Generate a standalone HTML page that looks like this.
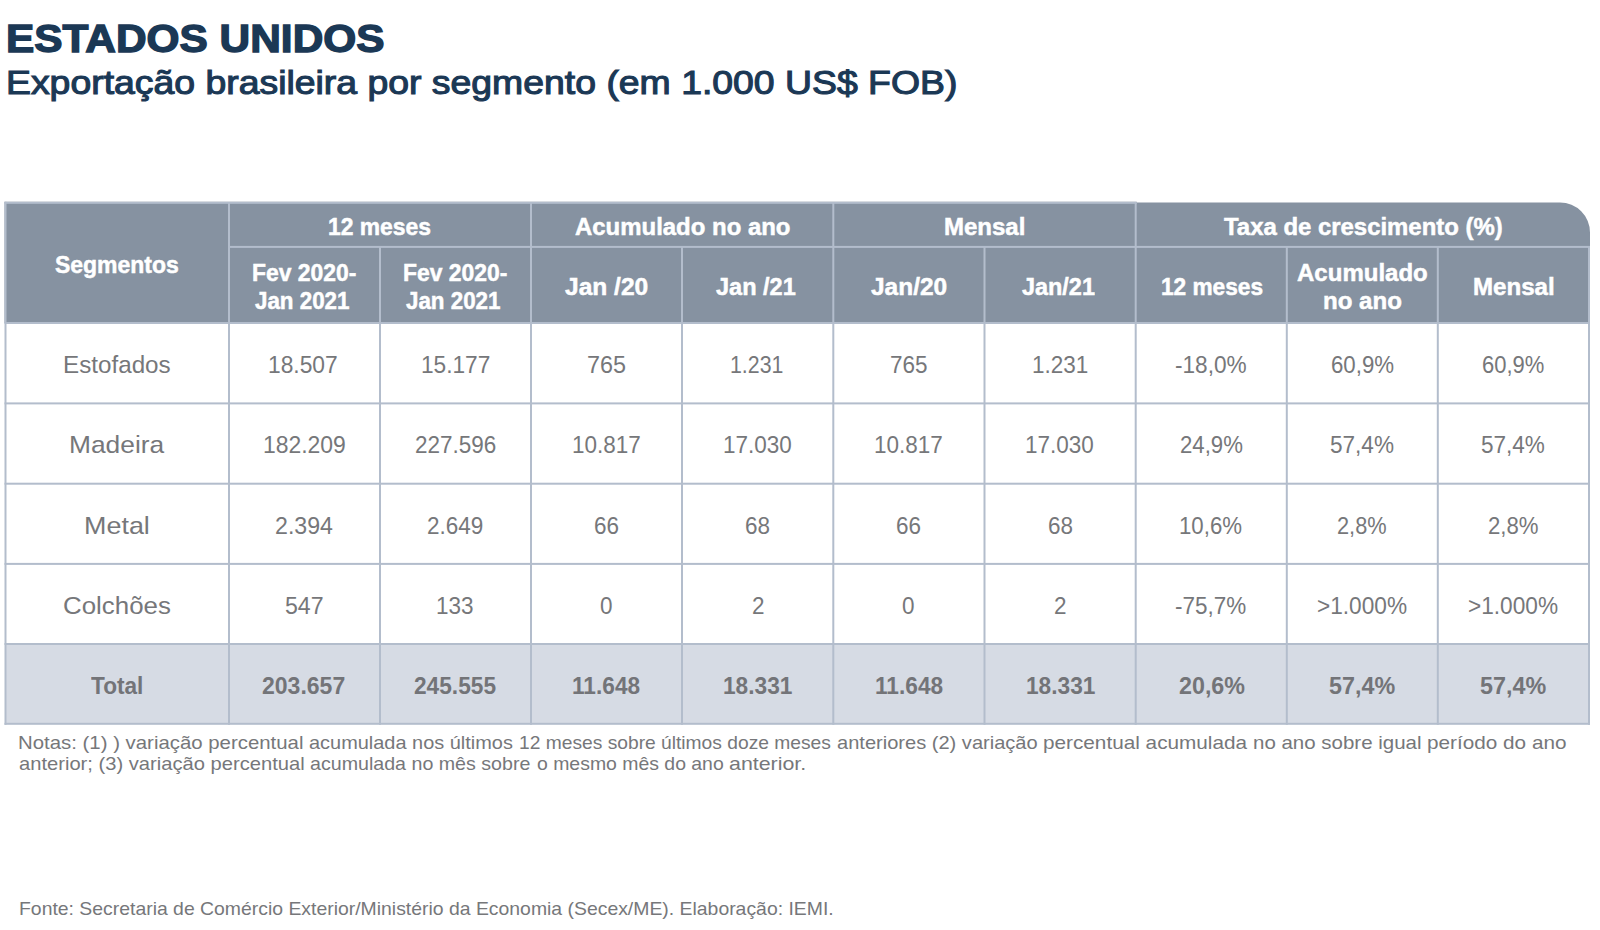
<!DOCTYPE html>
<html lang="pt-BR"><head><meta charset="utf-8"><title>Estados Unidos - Exportação brasileira por segmento</title>
<style>
html,body{margin:0;padding:0;background:#fff;}
body{width:1600px;height:930px;position:relative;overflow:hidden;font-family:"Liberation Sans",sans-serif;}
.abs{position:absolute;}
.t{position:absolute;display:block;white-space:nowrap;line-height:1;transform-origin:0 0;}
.ln{position:absolute;}
</style></head><body>
<svg class="abs" style="left:0;top:0" width="1600" height="930" viewBox="0 0 1600 930">
<path d="M4.5 201.8 H1136.7 V202.5 H1560 A30 30 0 0 1 1590 232.5 V323 H4.5 Z" fill="#8692a1"/>
<rect x="5.5" y="644" width="1583.5" height="79.8" fill="#d6dbe4"/>
<rect x="4.5" y="201.8" width="1132.2" height="2" fill="#b3bdcc"/>
<rect x="229" y="245.9" width="1361" height="2" fill="#b3bdcc"/>
<rect x="4.5" y="201.8" width="2" height="121.2" fill="#b3bdcc"/>
<rect x="228" y="202.8" width="2" height="120.2" fill="#b3bdcc"/>
<rect x="530" y="202.8" width="2" height="120.2" fill="#b3bdcc"/>
<rect x="832.3" y="202.8" width="2" height="120.2" fill="#b3bdcc"/>
<rect x="1134.7" y="202.8" width="2" height="120.2" fill="#b3bdcc"/>
<rect x="379" y="246.9" width="2" height="76.1" fill="#b3bdcc"/>
<rect x="681" y="246.9" width="2" height="76.1" fill="#b3bdcc"/>
<rect x="983.5" y="246.9" width="2" height="76.1" fill="#b3bdcc"/>
<rect x="1285.8" y="246.9" width="2" height="76.1" fill="#b3bdcc"/>
<rect x="1436.8" y="246.9" width="2" height="76.1" fill="#b3bdcc"/>
<rect x="1588" y="246.9" width="2" height="76.1" fill="#b3bdcc"/>
<rect x="4.5" y="322" width="1585.5" height="2" fill="#b3bdcc"/>
<rect x="4.5" y="402.4" width="1585.5" height="2" fill="#b3bdcc"/>
<rect x="4.5" y="482.7" width="1585.5" height="2" fill="#b3bdcc"/>
<rect x="4.5" y="562.9" width="1585.5" height="2" fill="#b3bdcc"/>
<rect x="4.5" y="643" width="1585.5" height="2" fill="#b3bdcc"/>
<rect x="4.5" y="722.8" width="1585.5" height="2" fill="#b3bdcc"/>
<rect x="4.5" y="323" width="2" height="401.8" fill="#b3bdcc"/>
<rect x="228" y="323" width="2" height="401.8" fill="#b3bdcc"/>
<rect x="379" y="323" width="2" height="401.8" fill="#b3bdcc"/>
<rect x="530" y="323" width="2" height="401.8" fill="#b3bdcc"/>
<rect x="681" y="323" width="2" height="401.8" fill="#b3bdcc"/>
<rect x="832.3" y="323" width="2" height="401.8" fill="#b3bdcc"/>
<rect x="983.5" y="323" width="2" height="401.8" fill="#b3bdcc"/>
<rect x="1134.7" y="323" width="2" height="401.8" fill="#b3bdcc"/>
<rect x="1285.8" y="323" width="2" height="401.8" fill="#b3bdcc"/>
<rect x="1436.8" y="323" width="2" height="401.8" fill="#b3bdcc"/>
<rect x="1588" y="323" width="2" height="401.8" fill="#b3bdcc"/>
</svg>
<div class="grp head">
<span class="t" id="title" style="left:5.85px;top:19px;font-size:39.4px;color:#1b3855;transform:scaleX(1.0765);font-weight:bold;-webkit-text-stroke:1.4px #1b3855;">ESTADOS UNIDOS</span>
<span class="t" id="sub" style="left:5.59px;top:66px;font-size:33.4px;color:#1b3855;transform:scaleX(1.1193);-webkit-text-stroke:1.1px #1b3855;">Exportação brasileira por segmento (em 1.000 US$ FOB)</span>
</div>
<div class="grp thead">
<span class="t" id="h_seg" style="left:54.61px;top:253px;font-size:24.4px;color:#ffffff;transform:scaleX(0.9413);font-weight:bold;-webkit-text-stroke:0.5px #ffffff;">Segmentos</span>
<span class="t" id="h_12" style="left:328.09px;top:215px;font-size:24.4px;color:#ffffff;transform:scaleX(0.9375);font-weight:bold;-webkit-text-stroke:0.5px #ffffff;">12 meses</span>
<span class="t" id="h_ac" style="left:575.00px;top:215px;font-size:24.4px;color:#ffffff;transform:scaleX(0.9817);font-weight:bold;-webkit-text-stroke:0.5px #ffffff;">Acumulado no ano</span>
<span class="t" id="h_me" style="left:944.02px;top:215px;font-size:24.4px;color:#ffffff;transform:scaleX(0.9844);font-weight:bold;-webkit-text-stroke:0.5px #ffffff;">Mensal</span>
<span class="t" id="h_tx" style="left:1224.00px;top:215px;font-size:24.4px;color:#ffffff;transform:scaleX(0.9806);font-weight:bold;-webkit-text-stroke:0.5px #ffffff;">Taxa de crescimento (%)</span>
<span class="t" id="h_f1a" style="left:251.70px;top:261px;font-size:24.4px;color:#ffffff;transform:scaleX(0.9386);font-weight:bold;-webkit-text-stroke:0.5px #ffffff;">Fev 2020-</span>
<span class="t" id="h_f1b" style="left:255.04px;top:289px;font-size:24.4px;color:#ffffff;transform:scaleX(0.9167);font-weight:bold;-webkit-text-stroke:0.5px #ffffff;">Jan 2021</span>
<span class="t" id="h_f2a" style="left:402.70px;top:261px;font-size:24.4px;color:#ffffff;transform:scaleX(0.9386);font-weight:bold;-webkit-text-stroke:0.5px #ffffff;">Fev 2020-</span>
<span class="t" id="h_f2b" style="left:406.04px;top:289px;font-size:24.4px;color:#ffffff;transform:scaleX(0.9167);font-weight:bold;-webkit-text-stroke:0.5px #ffffff;">Jan 2021</span>
<span class="t" id="h_j1" style="left:565.00px;top:275px;font-size:24.4px;color:#ffffff;transform:scaleX(1.0061);font-weight:bold;-webkit-text-stroke:0.5px #ffffff;">Jan /20</span>
<span class="t" id="h_j2" style="left:715.99px;top:275px;font-size:24.4px;color:#ffffff;transform:scaleX(0.9639);font-weight:bold;-webkit-text-stroke:0.5px #ffffff;">Jan /21</span>
<span class="t" id="h_j3" style="left:871.00px;top:275px;font-size:24.4px;color:#ffffff;transform:scaleX(1.0034);font-weight:bold;-webkit-text-stroke:0.5px #ffffff;">Jan/20</span>
<span class="t" id="h_j4" style="left:1022.01px;top:275px;font-size:24.4px;color:#ffffff;transform:scaleX(0.9601);font-weight:bold;-webkit-text-stroke:0.5px #ffffff;">Jan/21</span>
<span class="t" id="h_12b" style="left:1161.08px;top:275px;font-size:24.4px;color:#ffffff;transform:scaleX(0.9283);font-weight:bold;-webkit-text-stroke:0.5px #ffffff;">12 meses</span>
<span class="t" id="h_acb1" style="left:1297.01px;top:261px;font-size:24.4px;color:#ffffff;transform:scaleX(0.9848);font-weight:bold;-webkit-text-stroke:0.5px #ffffff;">Acumulado</span>
<span class="t" id="h_acb2" style="left:1323.00px;top:289px;font-size:24.4px;color:#ffffff;transform:scaleX(0.9875);font-weight:bold;-webkit-text-stroke:0.5px #ffffff;">no ano</span>
<span class="t" id="h_meb" style="left:1473.00px;top:275px;font-size:24.4px;color:#ffffff;transform:scaleX(0.9878);font-weight:bold;-webkit-text-stroke:0.5px #ffffff;">Mensal</span>
</div>
<div class="grp tbody">
<span class="t" id="b0_0" style="left:63.41px;top:353px;font-size:24.4px;color:#76777a;transform:scaleX(0.9925);">Estofados</span>
<span class="t" id="b0_1" style="left:268.45px;top:353px;font-size:24.4px;color:#76777a;transform:scaleX(0.9347);">18.507</span>
<span class="t" id="b0_2" style="left:420.65px;top:353px;font-size:24.4px;color:#76777a;transform:scaleX(0.9292);">15.177</span>
<span class="t" id="b0_3" style="left:586.87px;top:353px;font-size:24.4px;color:#76777a;transform:scaleX(0.9580);">765</span>
<span class="t" id="b0_4" style="left:729.99px;top:353px;font-size:24.4px;color:#76777a;transform:scaleX(0.8738);">1.231</span>
<span class="t" id="b0_5" style="left:889.71px;top:353px;font-size:24.4px;color:#76777a;transform:scaleX(0.9220);">765</span>
<span class="t" id="b0_6" style="left:1031.81px;top:353px;font-size:24.4px;color:#76777a;transform:scaleX(0.9220);">1.231</span>
<span class="t" id="b0_7" style="left:1175.30px;top:353px;font-size:24.4px;color:#76777a;transform:scaleX(0.9276);">-18,0%</span>
<span class="t" id="b0_8" style="left:1330.76px;top:353px;font-size:24.4px;color:#76777a;transform:scaleX(0.9121);">60,9%</span>
<span class="t" id="b0_9" style="left:1481.55px;top:353px;font-size:24.4px;color:#76777a;transform:scaleX(0.9015);">60,9%</span>
<span class="t" id="b1_0" style="left:68.91px;top:433px;font-size:24.4px;color:#76777a;transform:scaleX(1.0803);">Madeira</span>
<span class="t" id="b1_1" style="left:263.13px;top:433px;font-size:24.4px;color:#76777a;transform:scaleX(0.9400);">182.209</span>
<span class="t" id="b1_2" style="left:415.47px;top:433px;font-size:24.4px;color:#76777a;transform:scaleX(0.9220);">227.596</span>
<span class="t" id="b1_3" style="left:571.92px;top:433px;font-size:24.4px;color:#76777a;transform:scaleX(0.9220);">10.817</span>
<span class="t" id="b1_4" style="left:723.05px;top:433px;font-size:24.4px;color:#76777a;transform:scaleX(0.9220);">17.030</span>
<span class="t" id="b1_5" style="left:874.03px;top:433px;font-size:24.4px;color:#76777a;transform:scaleX(0.9220);">10.817</span>
<span class="t" id="b1_6" style="left:1025.36px;top:433px;font-size:24.4px;color:#76777a;transform:scaleX(0.9220);">17.030</span>
<span class="t" id="b1_7" style="left:1179.67px;top:433px;font-size:24.4px;color:#76777a;transform:scaleX(0.9089);">24,9%</span>
<span class="t" id="b1_8" style="left:1329.79px;top:433px;font-size:24.4px;color:#76777a;transform:scaleX(0.9251);">57,4%</span>
<span class="t" id="b1_9" style="left:1481.27px;top:433px;font-size:24.4px;color:#76777a;transform:scaleX(0.9240);">57,4%</span>
<span class="t" id="b2_0" style="left:83.91px;top:514px;font-size:24.4px;color:#76777a;transform:scaleX(1.1037);">Metal</span>
<span class="t" id="b2_1" style="left:275.08px;top:514px;font-size:24.4px;color:#76777a;transform:scaleX(0.9492);">2.394</span>
<span class="t" id="b2_2" style="left:427.38px;top:514px;font-size:24.4px;color:#76777a;transform:scaleX(0.9220);">2.649</span>
<span class="t" id="b2_3" style="left:593.59px;top:514px;font-size:24.4px;color:#76777a;transform:scaleX(0.9220);">66</span>
<span class="t" id="b2_4" style="left:745.18px;top:514px;font-size:24.4px;color:#76777a;transform:scaleX(0.9220);">68</span>
<span class="t" id="b2_5" style="left:896.16px;top:514px;font-size:24.4px;color:#76777a;transform:scaleX(0.9220);">66</span>
<span class="t" id="b2_6" style="left:1047.95px;top:514px;font-size:24.4px;color:#76777a;transform:scaleX(0.9220);">68</span>
<span class="t" id="b2_7" style="left:1179.14px;top:514px;font-size:24.4px;color:#76777a;transform:scaleX(0.9107);">10,6%</span>
<span class="t" id="b2_8" style="left:1336.69px;top:514px;font-size:24.4px;color:#76777a;transform:scaleX(0.8927);">2,8%</span>
<span class="t" id="b2_9" style="left:1488.15px;top:514px;font-size:24.4px;color:#76777a;transform:scaleX(0.9095);">2,8%</span>
<span class="t" id="b3_0" style="left:63.40px;top:594px;font-size:24.4px;color:#76777a;transform:scaleX(1.0610);">Colchões</span>
<span class="t" id="b3_1" style="left:284.58px;top:594px;font-size:24.4px;color:#76777a;transform:scaleX(0.9481);">547</span>
<span class="t" id="b3_2" style="left:435.60px;top:594px;font-size:24.4px;color:#76777a;transform:scaleX(0.9220);">133</span>
<span class="t" id="b3_3" style="left:599.51px;top:594px;font-size:24.4px;color:#76777a;transform:scaleX(0.9220);">0</span>
<span class="t" id="b3_4" style="left:751.63px;top:594px;font-size:24.4px;color:#76777a;transform:scaleX(0.9220);">2</span>
<span class="t" id="b3_5" style="left:902.15px;top:594px;font-size:24.4px;color:#76777a;transform:scaleX(0.9220);">0</span>
<span class="t" id="b3_6" style="left:1054.40px;top:594px;font-size:24.4px;color:#76777a;transform:scaleX(0.9220);">2</span>
<span class="t" id="b3_7" style="left:1175.06px;top:594px;font-size:24.4px;color:#76777a;transform:scaleX(0.9212);">-75,7%</span>
<span class="t" id="b3_8" style="left:1316.66px;top:594px;font-size:24.4px;color:#76777a;transform:scaleX(0.9284);">&gt;1.000%</span>
<span class="t" id="b3_9" style="left:1468.11px;top:594px;font-size:24.4px;color:#76777a;transform:scaleX(0.9284);">&gt;1.000%</span>
<span class="t" id="b4_0" style="left:91.48px;top:674px;font-size:24.4px;color:#737478;transform:scaleX(0.9273);font-weight:bold;">Total</span>
<span class="t" id="b4_1" style="left:262.47px;top:674px;font-size:24.4px;color:#737478;transform:scaleX(0.9437);font-weight:bold;">203.657</span>
<span class="t" id="b4_2" style="left:413.58px;top:674px;font-size:24.4px;color:#737478;transform:scaleX(0.9300);font-weight:bold;">245.555</span>
<span class="t" id="b4_3" style="left:572.09px;top:674px;font-size:24.4px;color:#737478;transform:scaleX(0.9300);font-weight:bold;">11.648</span>
<span class="t" id="b4_4" style="left:722.75px;top:674px;font-size:24.4px;color:#737478;transform:scaleX(0.9300);font-weight:bold;">18.331</span>
<span class="t" id="b4_5" style="left:874.66px;top:674px;font-size:24.4px;color:#737478;transform:scaleX(0.9300);font-weight:bold;">11.648</span>
<span class="t" id="b4_6" style="left:1025.52px;top:674px;font-size:24.4px;color:#737478;transform:scaleX(0.9300);font-weight:bold;">18.331</span>
<span class="t" id="b4_7" style="left:1178.59px;top:674px;font-size:24.4px;color:#737478;transform:scaleX(0.9545);font-weight:bold;">20,6%</span>
<span class="t" id="b4_8" style="left:1328.73px;top:674px;font-size:24.4px;color:#737478;transform:scaleX(0.9559);font-weight:bold;">57,4%</span>
<span class="t" id="b4_9" style="left:1480.13px;top:674px;font-size:24.4px;color:#737478;transform:scaleX(0.9559);font-weight:bold;">57,4%</span>
</div>
<div class="grp notes">
<span class="t" id="n1_0" style="left:18.34px;top:733px;font-size:19px;color:#76777a;transform:scaleX(1.0727);">Notas: (1) ) variação percentual</span>
<span class="t" id="n1_1" style="left:308.95px;top:733px;font-size:19px;color:#76777a;transform:scaleX(1.0492);">acumulada nos últimos</span>
<span class="t" id="n1_2" style="left:518.99px;top:733px;font-size:19px;color:#76777a;transform:scaleX(1.0114);">12 meses sobre</span>
<span class="t" id="n1_3" style="left:660.99px;top:733px;font-size:19px;color:#76777a;transform:scaleX(1.0120);">últimos doze meses</span>
<span class="t" id="n1_4" style="left:836.97px;top:733px;font-size:19px;color:#76777a;transform:scaleX(1.0557);">anteriores (2) variação</span>
<span class="t" id="n1_5" style="left:1042.86px;top:733px;font-size:19px;color:#76777a;transform:scaleX(1.0914);">percentual acumulada</span>
<span class="t" id="n1_6" style="left:1252.92px;top:733px;font-size:19px;color:#76777a;transform:scaleX(1.0779);">no ano sobre igual</span>
<span class="t" id="n1_7" style="left:1426.86px;top:733px;font-size:19px;color:#76777a;transform:scaleX(1.0913);">período do ano</span>
<span class="t" id="n2_0" style="left:19.34px;top:754px;font-size:19px;color:#76777a;transform:scaleX(1.0607);">anterior; (3) variação percentual</span>
<span class="t" id="n2_1" style="left:309.97px;top:754px;font-size:19px;color:#76777a;transform:scaleX(1.0330);">acumulada no mês sobre</span>
<span class="t" id="n2_2" style="left:536.98px;top:754px;font-size:19px;color:#76777a;transform:scaleX(1.0220);">o mesmo mês do ano</span>
<span class="t" id="n2_3" style="left:728.87px;top:754px;font-size:19px;color:#76777a;transform:scaleX(1.1250);">anterior.</span>
</div>
<div class="grp fonte">
<span class="t" id="fonte" style="left:18.96px;top:899px;font-size:19px;color:#76777a;transform:scaleX(1.0205);">Fonte: Secretaria de Comércio Exterior/Ministério da Economia (Secex/ME). Elaboração: IEMI.</span>
</div>
</body></html>
